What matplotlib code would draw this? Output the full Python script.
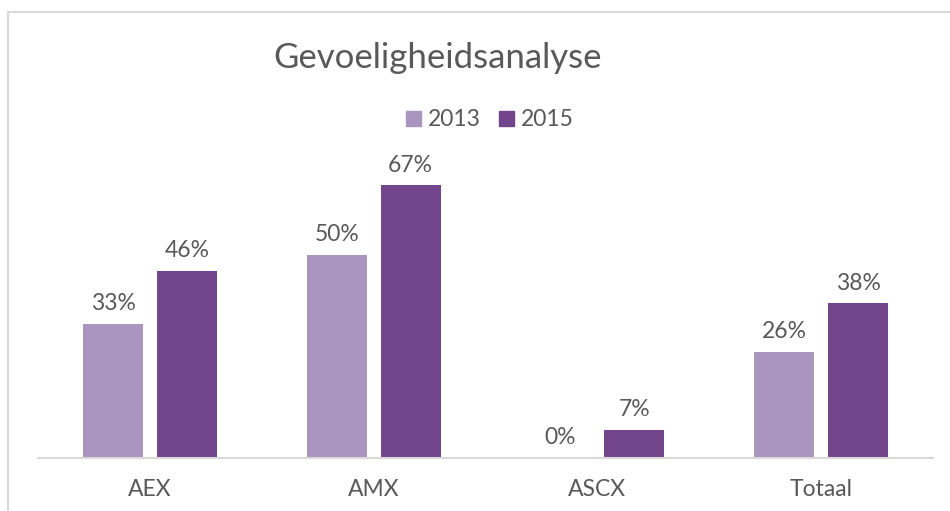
import numpy as np
import matplotlib.pyplot as plt
from matplotlib.patches import Rectangle, Patch

categories = ["AEX", "AMX", "ASCX", "Totaal"]
years = ["2013", "2015"]
values_2013 = [0.33, 0.50, 0.00, 0.26]
values_2015 = [0.46, 0.67, 0.07, 0.38]

colors = ["#AA94C0", "#73468B"]
text_col = "#595959"

plt.rcParams["font.family"] = ["Lato", "DejaVu Sans"]

fig = plt.figure(figsize=(9.5, 5.11), dpi=100)
fig.patch.set_facecolor("white")

# outer chart border (cut off at right/bottom)
fig.patches.append(Rectangle((8 / 950, -0.1), 1.2, 1.1 - 12 / 511,
                             transform=fig.transFigure, fill=False,
                             edgecolor="#D9D9D9", linewidth=1.5))

ax = fig.add_axes([38 / 950, 53 / 511, 895 / 950, 308 / 511])
x = np.arange(len(categories))
width = 0.268
offset = 0.165

b1 = ax.bar(x - offset, values_2013, width, color=colors[0], label=years[0])
b2 = ax.bar(x + offset, values_2015, width, color=colors[1], label=years[1])

for bars, vals in [(b1, values_2013), (b2, values_2015)]:
    for rect, v in zip(bars, vals):
        ax.annotate(f"{v:.0%}", (rect.get_x() + rect.get_width() / 2, v),
                    xytext=(0, 7), textcoords="offset points",
                    ha="center", va="bottom", fontsize=16.5, color=text_col)

ax.set_xlim(-0.5, 3.5)
ax.set_ylim(0, 308 / 407)
ax.set_xticks(x, categories)
ax.tick_params(axis="x", length=0, pad=15, labelsize=16.5, labelcolor=text_col)
ax.set_yticks([])
for s in ["top", "right", "left"]:
    ax.spines[s].set_visible(False)
ax.spines["bottom"].set_color("#D9D9D9")
ax.spines["bottom"].set_linewidth(1.5)

fig.text(438 / 950, 1 - 58 / 511, "Gevoeligheidsanalyse", ha="center",
         va="center", fontsize=25, color=text_col)

handles = [Patch(color=c, label=y) for c, y in zip(colors, years)]
fig.legend(handles=handles, loc="center", bbox_to_anchor=(490 / 950, 1 - 120 / 511),
           ncol=2, frameon=False, fontsize=16.5, labelcolor=text_col,
           handlelength=0.65, handleheight=0.65, handletextpad=0.3, columnspacing=0.8)

fig.savefig("out.png", dpi=100)
